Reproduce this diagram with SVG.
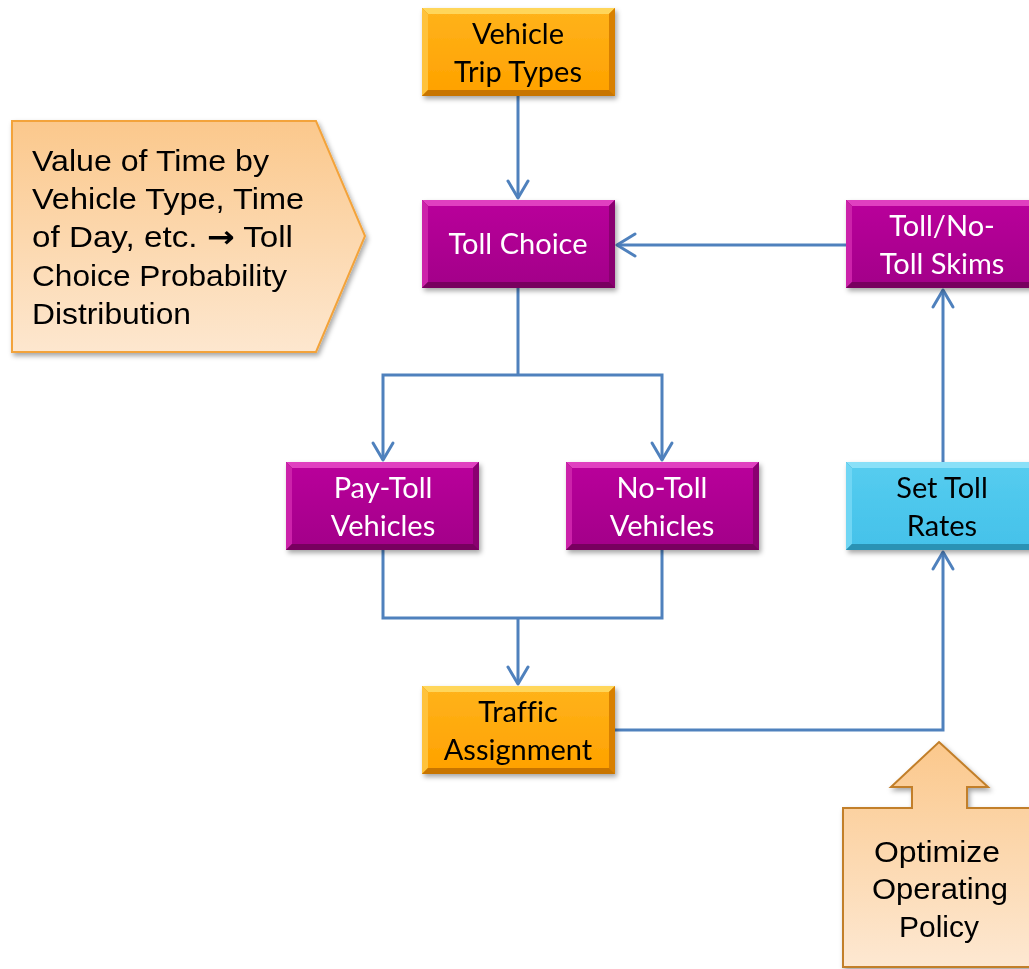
<svg xmlns="http://www.w3.org/2000/svg" width="1029" height="969" viewBox="0 0 1029 969">
<defs>
<style>
.box{font-family:Lato,"Open Sans",sans-serif;font-size:29px;text-anchor:middle;font-variant-ligatures:none}
.w{fill:#ffffff}
.k{fill:#000000}
.note{font-family:"Liberation Sans",Arial,sans-serif;font-size:30px;fill:#000}
.arr{font-family:"DejaVu Sans",sans-serif;font-weight:bold}
.conn{fill:none;stroke:#4F81BD;stroke-width:3;stroke-linejoin:miter}
.head{fill:none;stroke:#4F81BD;stroke-width:3;stroke-linecap:round;stroke-linejoin:round}
</style>
<linearGradient id="gOr" x1="0" y1="0" x2="0" y2="1">
<stop offset="0" stop-color="#FFB21A"/><stop offset="1" stop-color="#FFA200"/>
</linearGradient>
<linearGradient id="gMg" x1="0" y1="0" x2="0" y2="1">
<stop offset="0" stop-color="#B8009A"/><stop offset="1" stop-color="#A4008A"/>
</linearGradient>
<linearGradient id="gBl" x1="0" y1="0" x2="0" y2="1">
<stop offset="0" stop-color="#55CCEF"/><stop offset="1" stop-color="#45C2EA"/>
</linearGradient>
<linearGradient id="gNote" x1="0" y1="0" x2="0" y2="1">
<stop offset="0" stop-color="#FBC88C"/><stop offset="1" stop-color="#FDE7CF"/>
</linearGradient>
<linearGradient id="gOpt" x1="0" y1="0" x2="0" y2="1">
<stop offset="0" stop-color="#FBC88C"/><stop offset="1" stop-color="#FDE8D2"/>
</linearGradient>
<filter id="sh" x="-10%" y="-10%" width="130%" height="140%">
<feDropShadow dx="2" dy="3" stdDeviation="2.5" flood-color="#000" flood-opacity="0.35"/>
</filter>
<g id="bevOr">
<rect x="0" y="0" width="193" height="88" fill="#E08A00"/>
<polygon points="0,0 193,0 187,6 6,6" fill="#FFD65A"/>
<polygon points="0,0 6,6 6,82 0,88" fill="#FFC23A"/>
<polygon points="193,0 193,88 187,82 187,6" fill="#D88000"/>
<polygon points="0,88 193,88 187,82 6,82" fill="#C87400"/>
<rect x="6" y="6" width="181" height="76" fill="url(#gOr)"/>
</g>
<g id="bevMg">
<rect x="0" y="0" width="193" height="88" fill="#8A006A"/>
<polygon points="0,0 193,0 187,6 6,6" fill="#E040C0"/>
<polygon points="0,0 6,6 6,82 0,88" fill="#CC20AA"/>
<polygon points="193,0 193,88 187,82 187,6" fill="#8A0070"/>
<polygon points="0,88 193,88 187,82 6,82" fill="#78005E"/>
<rect x="6" y="6" width="181" height="76" fill="url(#gMg)"/>
</g>
<g id="bevBl">
<rect x="0" y="0" width="193" height="88" fill="#2E9CC0"/>
<polygon points="0,0 193,0 187,6 6,6" fill="#8AE0F8"/>
<polygon points="0,0 6,6 6,82 0,88" fill="#70D6F4"/>
<polygon points="193,0 193,88 187,82 187,6" fill="#36A8CC"/>
<polygon points="0,88 193,88 187,82 6,82" fill="#2A92B4"/>
<rect x="6" y="6" width="181" height="76" fill="url(#gBl)"/>
</g>
</defs>

<g id="connectors">
<path class="conn" d="M518,96 V198"/>
<path class="head" d="M508,181 L518,198 L528,181"/>
<path class="conn" d="M846,245 H617"/>
<path class="head" d="M635,234 L617,245 L635,256"/>
<path class="conn" d="M518,288 V375 M383,460 V375 H662 V460"/>
<path class="head" d="M373,443 L383,460 L393,443"/>
<path class="head" d="M652,443 L662,460 L672,443"/>
<path class="conn" d="M383,550 V618 H662 V550 M518,618 V684"/>
<path class="head" d="M508,667 L518,684 L528,667"/>
<path class="conn" d="M615,730 H943 V552"/>
<path class="head" d="M933,569 L943,552 L953,569"/>
<path class="conn" d="M943,462 V290"/>
<path class="head" d="M933,307 L943,290 L953,307"/>
</g>

<g id="vehicle-trip-types" filter="url(#sh)">
<use href="#bevOr" x="422" y="8"/>
<text class="box k" x="518" y="44">Vehicle</text>
<text class="box k" x="518" y="82">Trip Types</text>
</g>

<g id="value-of-time" filter="url(#sh)">
<polygon points="12,121 316,121 365,236 316,352 12,352" fill="url(#gNote)" stroke="#F3A33A" stroke-width="2"/>
<text class="note" x="32" y="171" textLength="237" lengthAdjust="spacingAndGlyphs">Value of Time by</text>
<text class="note" x="32" y="209" textLength="272" lengthAdjust="spacingAndGlyphs">Vehicle Type, Time</text>
<text class="note" x="32" y="247" textLength="261" lengthAdjust="spacingAndGlyphs">of Day, etc. <tspan class="arr">→</tspan> Toll</text>
<text class="note" x="32" y="286" textLength="255" lengthAdjust="spacingAndGlyphs">Choice Probability</text>
<text class="note" x="32" y="324" textLength="159" lengthAdjust="spacingAndGlyphs">Distribution</text>
</g>

<g id="toll-choice" filter="url(#sh)">
<use href="#bevMg" x="422" y="200"/>
<text class="box w" x="518" y="254">Toll Choice</text>
</g>

<g id="toll-skims" filter="url(#sh)">
<use href="#bevMg" x="846" y="200"/>
<text class="box w" x="942" y="236">Toll/No-</text>
<text class="box w" x="942" y="274">Toll Skims</text>
</g>

<g id="pay-toll" filter="url(#sh)">
<use href="#bevMg" x="286" y="462"/>
<text class="box w" x="383" y="498">Pay-Toll</text>
<text class="box w" x="383" y="536">Vehicles</text>
</g>

<g id="no-toll" filter="url(#sh)">
<use href="#bevMg" x="566" y="462"/>
<text class="box w" x="662" y="498">No-Toll</text>
<text class="box w" x="662" y="536">Vehicles</text>
</g>

<g id="set-toll-rates" filter="url(#sh)">
<use href="#bevBl" x="846" y="462"/>
<text class="box k" x="942" y="498">Set Toll</text>
<text class="box k" x="942" y="536">Rates</text>
</g>

<g id="traffic-assignment" filter="url(#sh)">
<use href="#bevOr" x="422" y="686"/>
<text class="box k" x="518" y="722">Traffic</text>
<text class="box k" x="518" y="760">Assignment</text>
</g>

<g id="optimize" filter="url(#sh)">
<polygon points="939,742 988,787 967,787 967,808 1035,808 1035,967 843,967 843,808 912,808 912,787 891,787" fill="url(#gOpt)" stroke="#C27F2A" stroke-width="2"/>
<text class="note" x="874" y="862" textLength="126" lengthAdjust="spacingAndGlyphs">Optimize</text>
<text class="note" x="872" y="899" textLength="136" lengthAdjust="spacingAndGlyphs">Operating</text>
<text class="note" x="939" y="937" text-anchor="middle">Policy</text>
</g>
</svg>
